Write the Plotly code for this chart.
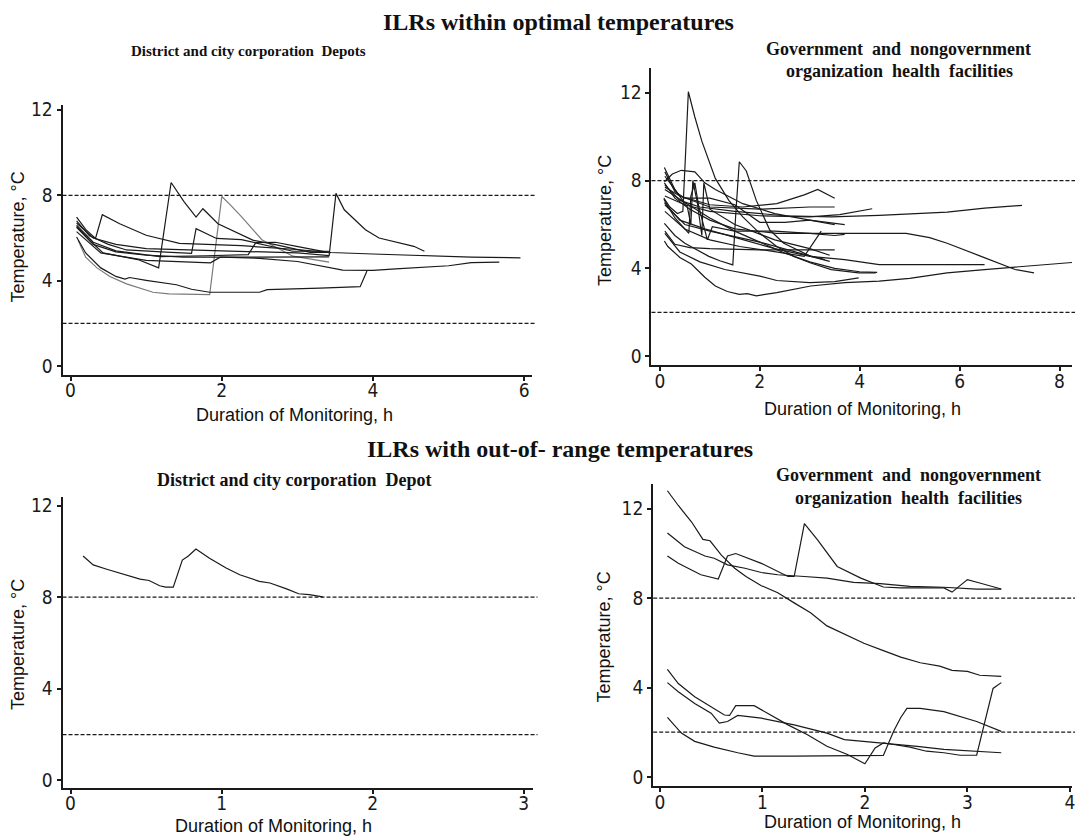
import plotly.graph_objects as go

# ---------------- data ----------------
# Panel 1: District and city corporation depots, within optimal
depot_in_x = [
    [0.1, 0.2, 0.35, 0.52, 0.74, 1.09, 1.3, 1.84, 2.0, 2.1, 2.26, 2.53, 2.94, 3.2, 3.42],
    [0.08, 0.2, 0.4, 0.6, 0.72, 0.78, 1.0, 1.4, 1.6, 1.84, 2.0, 2.5, 2.6, 3.0, 3.3, 3.83, 3.92],
    [0.08, 0.2, 0.33, 0.42, 0.65, 1.0, 1.44, 2.0, 2.26, 2.99, 3.44, 4.0, 4.72, 5.3, 5.95],
    [0.08, 0.25, 0.43, 0.89, 1.165, 1.33, 1.5, 1.66, 1.75, 1.95, 2.41, 2.71, 3.17, 3.42],
    [0.08, 0.25, 0.5, 0.74, 1.2, 1.6, 1.66, 1.93, 2.26, 2.94, 3.42],
    [0.08, 0.3, 0.6, 1.0, 1.18, 1.8, 2.35, 2.45, 2.71, 2.99, 3.44],
    [0.08, 0.3, 0.6, 1.0, 2.0, 3.0, 3.42, 3.51, 3.62, 3.9, 4.08, 4.54, 4.68],
    [0.08, 0.3, 0.6, 1.0, 1.5, 2.0, 2.5, 3.0, 3.6, 4.0, 4.3, 5.0, 5.3, 5.67],
    [0.08, 0.4, 1.0, 1.5, 1.85, 1.98, 2.6, 3.42],
]
depot_in_y = [
    [5.9, 5.1, 4.6, 4.2, 3.85, 3.46, 3.38, 3.35, 7.94, 7.6, 7.0, 5.92, 5.15, 5.0, 4.87],
    [6.05, 5.3, 4.6, 4.2, 4.08, 4.15, 4.02, 3.81, 3.6, 3.46, 3.46, 3.46, 3.58, 3.6, 3.65, 3.72, 4.45],
    [6.98, 6.4, 5.98, 7.09, 6.67, 6.13, 5.75, 5.68, 5.64, 5.46, 5.32, 5.25, 5.15, 5.1, 5.07],
    [6.54, 5.9, 5.3, 4.99, 4.6, 8.6, 7.7, 6.98, 7.37, 6.67, 5.9, 5.69, 5.33, 5.33],
    [6.8, 6.1, 5.7, 5.44, 5.35, 5.28, 6.44, 5.98, 5.92, 5.38, 5.38],
    [6.6, 5.8, 5.4, 5.2, 5.13, 5.17, 5.22, 5.78, 5.8, 5.61, 5.3],
    [6.7, 6.0, 5.7, 5.5, 5.4, 5.3, 5.18, 8.09, 7.32, 6.39, 6.0, 5.61, 5.38],
    [6.5, 5.7, 5.35, 5.2, 5.1, 5.1, 5.05, 4.9, 4.5, 4.48, 4.55, 4.7, 4.85, 4.87],
    [6.3, 5.3, 4.95, 4.88, 4.84, 5.1, 5.1, 5.12],
]
depot_in_color = ["#7a7a7a"] + ["#1a1a1a"] * 8

# Panel 2: Government and NGO health facilities, within optimal
hf_in_x = [
    [0.08, 0.2, 0.35, 0.46, 0.52, 0.57, 0.7, 0.84, 1.11, 1.38, 1.66, 2.0, 2.34, 2.68, 3.02, 3.43, 3.98, 4.32],
    [0.09, 0.3, 0.5, 0.98, 1.2, 1.46, 1.52, 1.59, 1.73, 1.93, 2.2, 2.48, 3.02, 3.4],
    [0.09, 0.16, 0.4, 0.63, 0.9, 1.11, 1.35, 1.59, 1.75, 1.93, 2.34, 3.02, 3.7, 4.39, 5.0, 5.75, 6.5, 7.11, 7.6, 8.3],
    [0.09, 0.3, 0.6, 1.0, 1.5, 2.34, 3.5, 4.93, 5.4, 5.75, 6.43, 7.11, 7.49],
    [0.1, 0.4, 0.8, 1.5, 2.5, 3.43, 4.39, 5.0, 5.75, 6.5, 7.25],
    [0.09, 0.4, 0.9, 1.5, 2.3, 3.0, 3.7, 4.39, 6.5],
    [0.1, 0.4, 1.0, 1.66, 2.34, 2.89, 3.16, 3.5],
    [0.1, 0.5, 1.0, 2.0, 3.0, 3.6, 4.25],
    [0.09, 0.25, 0.43, 0.7, 0.9, 1.11, 1.66, 2.3, 3.0, 3.5],
    [0.09, 0.3, 0.55, 0.62, 0.66, 0.75, 0.84, 0.88, 1.0, 1.5, 2.3, 3.0, 3.4],
    [0.08, 0.3, 0.58, 0.62, 0.7, 0.78, 0.95, 1.05, 1.5, 2.3, 3.0, 3.5, 3.7],
    [0.1, 0.5, 1.0, 1.6, 2.2, 2.89, 3.23],
    [0.1, 0.3, 0.6, 1.0, 2.0, 3.0, 3.5],
    [0.1, 0.4, 0.8, 1.3, 2.0, 2.34, 3.0, 3.5, 3.98],
    [0.1, 0.5, 1.0, 2.0, 2.8, 3.3],
    [0.1, 0.4, 1.0, 2.0, 3.0, 3.5],
    [0.1, 0.5, 1.0, 1.5, 2.0, 2.5, 3.0, 3.5, 4.0, 4.35],
    [0.1, 0.3, 0.5, 1.0, 1.5, 2.0, 2.5, 3.0, 3.7],
]
hf_in_y = [
    [7.2, 6.8, 6.5, 6.6, 9.5, 12.05, 10.9, 9.8, 8.1, 7.1, 6.35, 5.6, 5.0, 4.55, 4.25, 3.95, 3.8, 3.8],
    [6.05, 5.5, 5.15, 4.55, 4.35, 4.16, 6.5, 8.86, 8.44, 7.1, 5.75, 5.15, 4.55, 4.32],
    [5.25, 5.0, 4.5, 4.2, 3.6, 3.2, 2.95, 2.82, 2.85, 2.75, 2.9, 3.2, 3.35, 3.42, 3.55, 3.8, 3.95, 4.06, 4.15, 4.28],
    [7.9, 7.2, 6.7, 6.2, 5.8, 5.6, 5.6, 5.6, 5.4, 5.15, 4.55, 3.95, 3.8],
    [7.8, 7.1, 6.8, 6.6, 6.4, 6.35, 6.42, 6.5, 6.57, 6.75, 6.87],
    [7.0, 6.2, 5.8, 5.4, 4.9, 4.55, 4.4, 4.17, 4.17],
    [7.7, 7.3, 6.9, 6.8, 6.95, 7.35, 7.6, 7.2],
    [7.3, 6.9, 6.6, 6.4, 6.35, 6.45, 6.72],
    [7.95, 8.3, 8.47, 8.4, 7.9, 7.6, 6.95, 6.5, 6.2, 6.0],
    [8.6, 7.6, 6.8, 6.0, 8.0, 7.0, 5.5, 7.9, 6.7, 6.0, 5.3, 4.9, 4.6],
    [7.15, 6.3, 5.6, 7.3, 7.9, 6.8, 5.3, 5.9, 5.7, 5.7, 5.6, 5.5, 5.55],
    [6.6, 5.8, 5.3, 5.0, 4.8, 4.55, 5.7],
    [5.7, 5.1, 4.95, 4.9, 4.85, 4.85, 4.85],
    [5.6, 4.75, 4.3, 3.95, 3.65, 3.45, 3.35, 3.4, 3.57],
    [6.9, 6.0, 5.7, 5.2, 4.7, 4.4],
    [8.2, 7.3, 6.8, 6.7, 6.8, 6.8],
    [7.6, 7.0, 6.3, 5.7, 5.2, 4.7, 4.3, 4.0, 3.85, 3.82],
    [8.4, 7.5, 7.2, 7.2, 6.9, 6.1, 6.1, 6.2, 6.0],
]

# Panel 3: District and city corporation depot, out-of-range
depot_out_x = [[0.083, 0.15, 0.24, 0.35, 0.46, 0.52, 0.59, 0.63, 0.68, 0.74, 0.78, 0.83, 0.92,
                1.03, 1.12, 1.25, 1.32, 1.43, 1.51, 1.58, 1.67]]
depot_out_y = [[9.8, 9.41, 9.22, 9.0, 8.79, 8.73, 8.5, 8.44, 8.44, 9.62, 9.8, 10.1, 9.7,
                9.27, 8.98, 8.69, 8.62, 8.36, 8.15, 8.11, 8.01]]

# Panel 4: Government and NGO health facilities, out-of-range
hf_out_x = [
    [0.074, 0.18, 0.31, 0.42, 0.49, 0.55, 0.6, 0.73, 0.84, 0.99, 1.15, 1.31, 1.47, 1.63, 1.8, 1.99,
     2.18, 2.35, 2.54, 2.73, 2.85, 3.0, 3.12, 3.33],
    [0.074, 0.24, 0.44, 0.53, 0.66, 0.83, 0.99, 1.15, 1.41, 1.63, 1.89, 2.15, 2.44, 2.77, 3.09, 3.33],
    [0.074, 0.18, 0.4, 0.57, 0.66, 0.74, 0.99, 1.25, 1.31, 1.41, 1.54, 1.73, 1.96, 2.18, 2.35, 2.51,
     2.77, 2.85, 3.0, 3.12, 3.33],
    [0.074, 0.18, 0.34, 0.5, 0.63, 0.68, 0.74, 0.92, 1.05, 1.25, 1.44, 1.63, 1.83, 2.0, 2.1, 2.18,
     2.28, 2.44, 2.6, 2.77, 2.93, 3.09, 3.25, 3.33],
    [0.074, 0.21, 0.34, 0.53, 0.76, 0.92, 1.31, 1.96, 2.18, 2.28, 2.35, 2.41, 2.54, 2.77, 3.09, 3.33],
    [0.074, 0.18, 0.34, 0.5, 0.58, 0.66, 0.76, 0.99, 1.31, 1.63, 1.8, 1.99, 2.18, 2.51, 2.77, 3.09, 3.33],
]
hf_out_y = [
    [12.81, 12.15, 11.41, 10.63, 10.57, 10.23, 9.93, 9.34, 8.97, 8.56, 8.24, 7.79, 7.35, 6.76, 6.39,
     5.98, 5.65, 5.36, 5.11, 4.96, 4.77, 4.72, 4.55, 4.5],
    [10.92, 10.3, 9.89, 9.79, 9.49, 9.34, 9.15, 9.05, 8.97, 8.9, 8.71, 8.65, 8.53, 8.49, 8.41, 8.41],
    [9.89, 9.56, 9.05, 8.86, 9.89, 10.0, 9.56, 8.97, 8.97, 11.34, 10.6, 9.42, 8.9, 8.5, 8.46, 8.46,
     8.46, 8.27, 8.83, 8.68, 8.41],
    [4.81, 4.18, 3.59, 3.14, 2.77, 2.75, 3.19, 3.19, 2.85, 2.33, 1.89, 1.37, 1.0, 0.59, 1.3, 1.52,
     1.45, 1.33, 1.15, 1.08, 0.97, 0.97, 3.96, 4.22],
    [2.66, 1.96, 1.59, 1.33, 1.08, 0.93, 0.93, 0.93, 0.96, 2.04, 2.66, 3.07, 3.07, 2.92, 2.48, 2.04],
    [4.22, 3.81, 3.29, 2.85, 2.41, 2.48, 2.75, 2.63, 2.33, 1.96, 1.67, 1.59, 1.52, 1.37, 1.23, 1.15, 1.08],
]

ref_lines = [2, 8]
y_ticks = [0, 4, 8, 12]
x_ticks_p1 = [0, 2, 4, 6]
x_ticks_p2 = [0, 2, 4, 6, 8]
x_ticks_p3 = [0, 1, 2, 3]
x_ticks_p4 = [0, 1, 2, 3, 4]

# ---------------- figure ----------------
W, H = 1075, 838
fig = go.Figure()


def px_x(v):
    return v / W


def px_y(v):
    return 1 - v / H


panels = [
    (depot_in_x, depot_in_y, depot_in_color, ""),
    (hf_in_x, hf_in_y, None, "2"),
    (depot_out_x, depot_out_y, None, "3"),
    (hf_out_x, hf_out_y, None, "4"),
]
for xs, ys, cols, sfx in panels:
    for i, (xx, yy) in enumerate(zip(xs, ys)):
        c = cols[i] if cols else "#1a1a1a"
        fig.add_trace(go.Scatter(x=xx, y=yy, mode="lines",
                                 line=dict(color=c, width=1.2),
                                 xaxis="x" + sfx, yaxis="y" + sfx,
                                 showlegend=False, hoverinfo="skip"))

tick_font = dict(family="Liberation Sans Narrow, Arial Narrow, DejaVu Sans Condensed, sans-serif",
                 size=19, color="#1a1a1a")
common_axis = dict(showline=True, linecolor="#1a1a1a", linewidth=2, ticks="outside",
                   ticklen=4, tickwidth=1.5, tickcolor="#1a1a1a", showgrid=False,
                   zeroline=False, tickfont=tick_font, mirror=False,
                   ticklabeloverflow="allow")

geo = {
    "": dict(xd=[62.7, 533.3], yd=[372.7, 100], xr=[-0.106, 6.10], yr=[-0.40, 12.23], xt=x_ticks_p1),
    "2": dict(xd=[653.3, 1075], yd=[362.7, 62.7], xr=[-0.168, 8.25], yr=[-0.39, 13.13], xt=x_ticks_p2),
    "3": dict(xd=[62.7, 534.3], yd=[790, 496.7], xr=[-0.053, 3.06], yr=[-0.315, 12.36], xt=x_ticks_p3),
    "4": dict(xd=[655, 1075], yd=[788.3, 483], xr=[-0.065, 4.02], yr=[-0.40, 13.12], xt=x_ticks_p4),
}
lay = {}
for sfx, g in geo.items():
    lay["xaxis" + sfx] = dict(common_axis, domain=[px_x(g["xd"][0]), px_x(g["xd"][1])],
                              range=g["xr"], tickvals=g["xt"], anchor="y" + sfx,
                              ticklabelstandoff=-6)
    lay["yaxis" + sfx] = dict(common_axis, domain=[px_y(g["yd"][0]), px_y(g["yd"][1])],
                              range=g["yr"], tickvals=y_ticks, anchor="x" + sfx)

shapes = []
for sfx in geo:
    for v in ref_lines:
        shapes.append(dict(type="line", xref=("x" + sfx) + " domain", yref="y" + sfx,
                           x0=0, x1=1.01, y0=v, y1=v,
                           line=dict(color="#1a1a1a", width=1.3, dash="4px,2px")))

serif = "Liberation Serif, Times New Roman, serif"
sans = "Liberation Sans, Arial, sans-serif"
ann = []


def text(t, x, y, size, family, angle=0):
    ann.append(dict(text=t, x=px_x(x), y=px_y(y), xref="paper", yref="paper",
                    showarrow=False, xanchor="center", yanchor="middle", textangle=angle,
                    font=dict(family=family, size=size, color="#111111")))


text("<b>ILRs within optimal temperatures</b>", 560, 16, 24, serif)
text("<b>ILRs with out-of- range temperatures</b>", 562, 448, 24, serif)
text("<b>District and city corporation  Depots</b>", 249, 45, 15, serif)
text("<b>Government  and  nongovernment</b>", 901, 43, 18, serif)
text("<b>organization  health  facilities</b>", 902, 66, 18, serif)
text("<b>District and city corporation  Depot</b>", 295, 479, 18, serif)
text("<b>Government  and  nongovernment</b>", 911, 474, 18, serif)
text("<b>organization  health  facilities</b>", 911, 497, 18, serif)

for (x, y) in [(295, 413), (865, 407), (274, 829), (865, 825)]:
    text("Duration of Monitoring, h", x, y, 18, sans)
for (x, y) in [(19, 233), (606, 217), (18, 645), (606, 638)]:
    text("Temperature, °C", x, y, 18, sans, -90)

fig.update_layout(width=W, height=H, margin=dict(l=0, r=0, t=0, b=0),
                  paper_bgcolor="white", plot_bgcolor="white",
                  shapes=shapes, annotations=ann, showlegend=False, **lay)

fig.write_html("out.html")
